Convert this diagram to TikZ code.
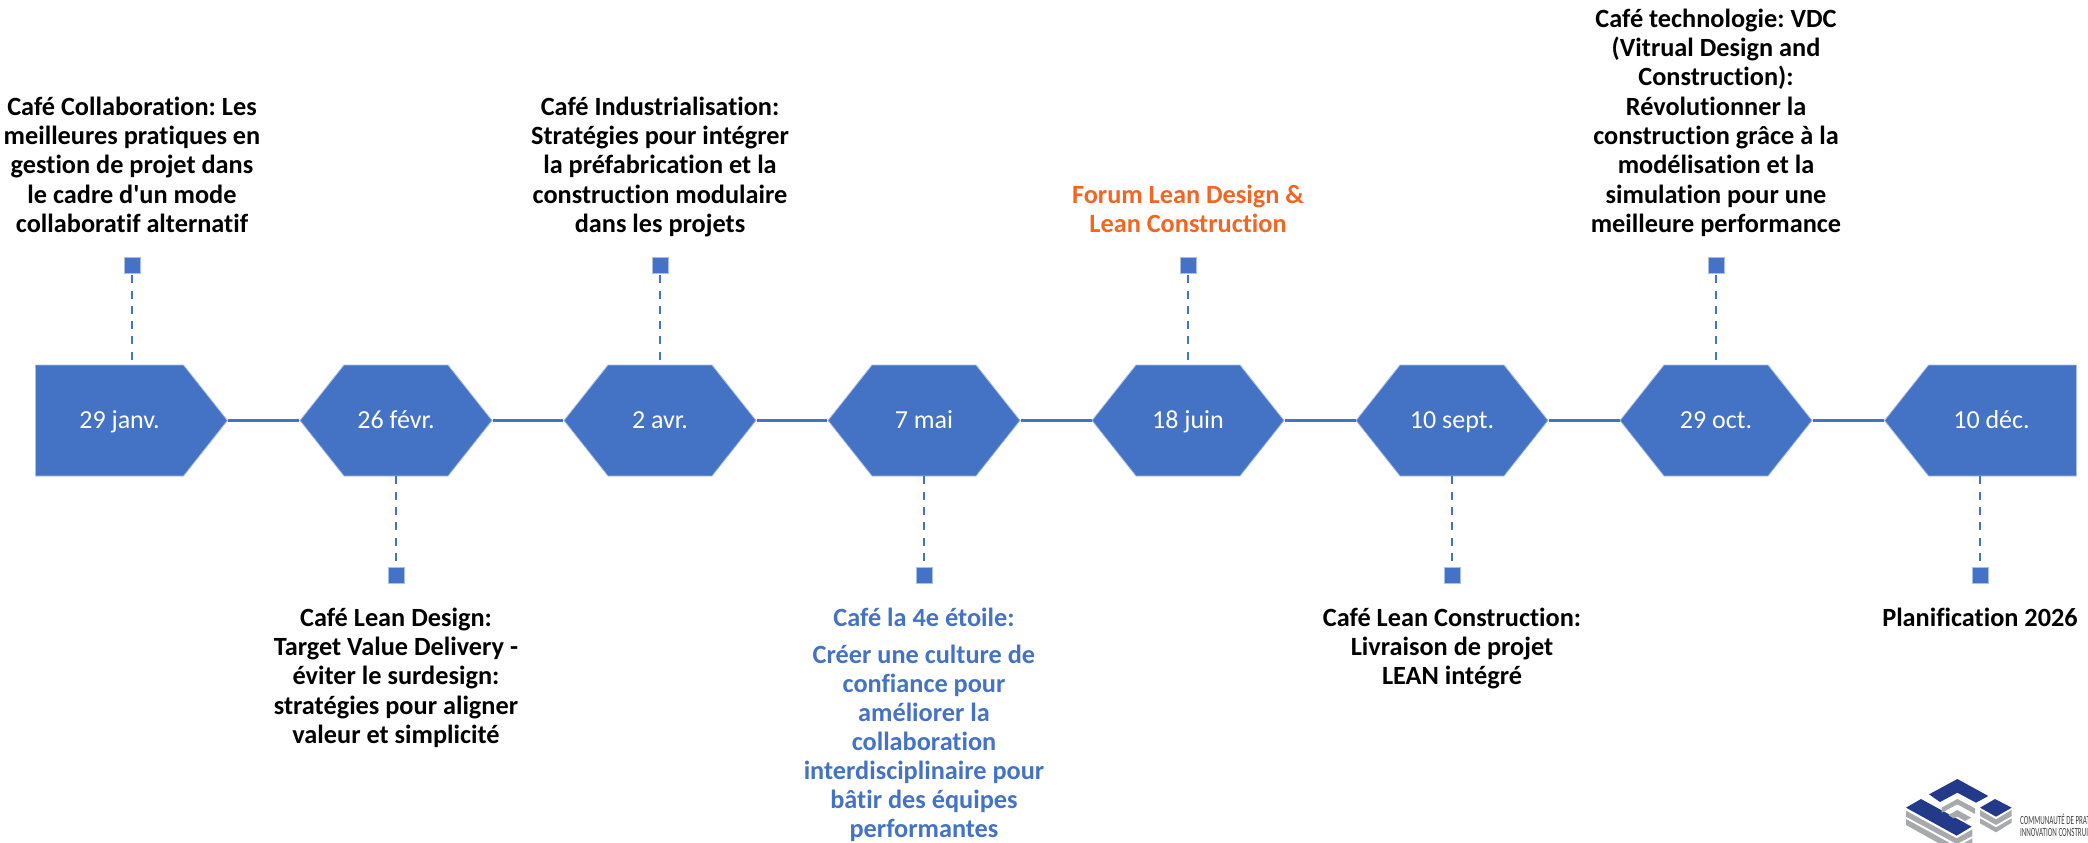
\documentclass[tikz,border=0pt]{standalone}
\usepackage{fontspec}
\setmainfont{Carlito}[Ligatures={NoCommon,TeX}]
\usetikzlibrary{shapes.symbols}
\definecolor{tlblue}{HTML}{4472C4}
\definecolor{tledge}{HTML}{A9BEE4}
\definecolor{tlorange}{HTML}{F26522}
\definecolor{logoblue}{HTML}{233A8B}
\definecolor{logogray}{HTML}{A7A9AC}
\newcommand\FL{\rule{0pt}{20pt}}
\tikzset{
  x=1pt,y=-1pt,
  hexbox/.style={shape=signal,signal to=east and west,signal pointer angle=103.2,minimum width=192pt,minimum height=111pt,inner sep=0pt,fill=tlblue,draw=tledge,line width=.8pt,text=white,text height=20pt,text depth=5pt,font=\fontsize{26}{29.3}\selectfont},
  arrowbox/.style={hexbox,signal to=east,signal from=nowhere},
  backbox/.style={hexbox,signal to=west,signal from=nowhere},
  marker/.style={rectangle,minimum size=16pt,inner sep=0pt,fill=tlblue,draw=tledge,line width=.4pt},
  link/.style={draw=tlblue,line width=2.2pt},
  drop/.style={draw=tlblue,line width=2pt,dash pattern=on 8pt off 7.3pt},
  event/.style={anchor=north,inner sep=0pt,align=center,font=\fontsize{26.3}{29.3}\selectfont\bfseries},
  logoblue part/.style={fill=logoblue},
  logogray part/.style={fill=logogray},
  logotext/.style={anchor=base west,inner sep=0pt,text=black!75,font=\fontsize{12.5}{12.5}\selectfont,xscale=.56,transform shape},
}
\begin{document}
\frenchspacing
\begin{tikzpicture}
\useasboundingbox (0,0) rectangle (2088,843);
% date shapes
\node[arrowbox,anchor=east] (h1) at (228,420.5) {\hspace*{20pt}29 janv.};
\node[hexbox] (h2) at (396,420.5) {26 févr.};
\node[hexbox] (h3) at (660,420.5) {2 avr.};
\node[hexbox] (h4) at (924,420.5) {7 mai};
\node[hexbox] (h5) at (1188,420.5) {18 juin};
\node[hexbox] (h6) at (1452,420.5) {10 sept.};
\node[hexbox] (h7) at (1716,420.5) {29 oct.};
\node[backbox,anchor=west] (h8) at (1884,420.5) {10 déc.\hspace*{22pt}};
% timeline
\draw[link] (h1.east) -- (h2.west);
\draw[link] (h2.east) -- (h3.west);
\draw[link] (h3.east) -- (h4.west);
\draw[link] (h4.east) -- (h5.west);
\draw[link] (h5.east) -- (h6.west);
\draw[link] (h6.east) -- (h7.west);
\draw[link] (h7.east) -- (h8.west);
% markers
\node[marker] (m1) at (132,265) {};
\node[marker] (m3) at (660,265) {};
\node[marker] (m5) at (1188,265) {};
\node[marker] (m7) at (1716,265) {};
\node[marker] (m2) at (396,575) {};
\node[marker] (m4) at (924,575) {};
\node[marker] (m6) at (1452,575) {};
\node[marker] (m8) at (1980,575) {};
\draw[drop,shorten <=2pt] (m1.south) -- (m1.south |- h1.north);
\draw[drop,shorten <=2pt] (m3.south) -- (h3.north);
\draw[drop,shorten <=2pt] (m5.south) -- (h5.north);
\draw[drop,shorten <=2pt] (m7.south) -- (h7.north);
\draw[drop,shorten <=6pt] (m2.north) -- (h2.south);
\draw[drop,shorten <=6pt] (m4.north) -- (h4.south);
\draw[drop,shorten <=6pt] (m6.north) -- (h6.south);
\draw[drop,shorten <=6pt] (m8.north) -- (m8.north |- h8.south);
% event texts
\node[event] (t1) at (132,95) {\FL Café Collaboration: Les\\meilleures pratiques en\\gestion de projet dans\\le cadre d\textquotesingle un mode\\collaboratif alternatif};
\node[event] (t3) at (660,95) {\FL Café Industrialisation:\\Stratégies pour intégrer\\la préfabrication et la\\construction modulaire\\dans les projets};
\node[event,text=tlorange] (t5) at (1188,183) {\FL Forum Lean Design \&\\Lean Construction};
\node[event] (t7) at (1716,7) {\FL Café technologie: VDC\\(Vitrual Design and\\Construction):\\Révolutionner la\\construction grâce à la\\modélisation et la\\simulation pour une\\meilleure performance};
\node[event] (t2) at (396,606) {\FL Café Lean Design:\\Target Value Delivery -\\éviter le surdesign:\\stratégies pour aligner\\valeur et simplicité};
\node[event,text=tlblue] (t4a) at (924,606) {\FL Café la 4e étoile:};
\node[event,text=tlblue,font=\fontsize{26.3}{28.9}\selectfont\bfseries] (t4b) at (924,643.5) {\FL Créer une culture de\\confiance pour\\améliorer la\\collaboration\\interdisciplinaire pour\\bâtir des équipes\\performantes};
\node[event] (t6) at (1452,606) {\FL Café Lean Construction:\\Livraison de projet\\LEAN intégré};
\node[event] (t8) at (1980,606) {\FL Planification 2026};
% logo
\begin{scope}[shift={(1895,770)},x=1pt/3,y=-1pt/3]
\fill[logoblue part] (102,73) -- (187,27) -- (280,78) -- (243,98) -- (187,68) -- (135,96) -- cycle;
\fill[logoblue part] (255,113) -- (300,87) -- (350,113) -- (303,140) -- cycle;
\fill[logoblue part] (33,113) -- (78,87) -- (230,170) -- (185,197) -- cycle;
\fill[logogray part] (255,120) -- (303,148) -- (350,120) -- (350,138) -- (303,165) -- (255,138) -- cycle;
\fill[logogray part] (255,145) -- (303,172) -- (350,145) -- (350,158) -- (303,187) -- (255,160) -- cycle;
\fill[logogray part] (33,122) -- (185,205) -- (232,178) -- (232,198) -- (185,222) -- (33,140) -- cycle;
\fill[logogray part] (33,147) -- (165,219) -- (130,219) -- (33,165) -- cycle;
\fill[logogray part] (207,219) -- (232,205) -- (232,219) -- cycle;
\fill[logogray part] (140,113) -- (187,87) -- (240,115) -- (240,132) -- (187,103) -- (140,128) -- cycle;
\fill[logogray part] (160,135) -- (187,120) -- (228,143) -- (210,153) -- (187,140) -- (175,145) -- cycle;
\end{scope}
\node[logotext] (lg1) at (2020,824) {COMMUNAUTÉ DE PRAT};
\node[logotext] (lg2) at (2020,836) {INNOVATION CONSTRUI};
\end{tikzpicture}
\end{document}
